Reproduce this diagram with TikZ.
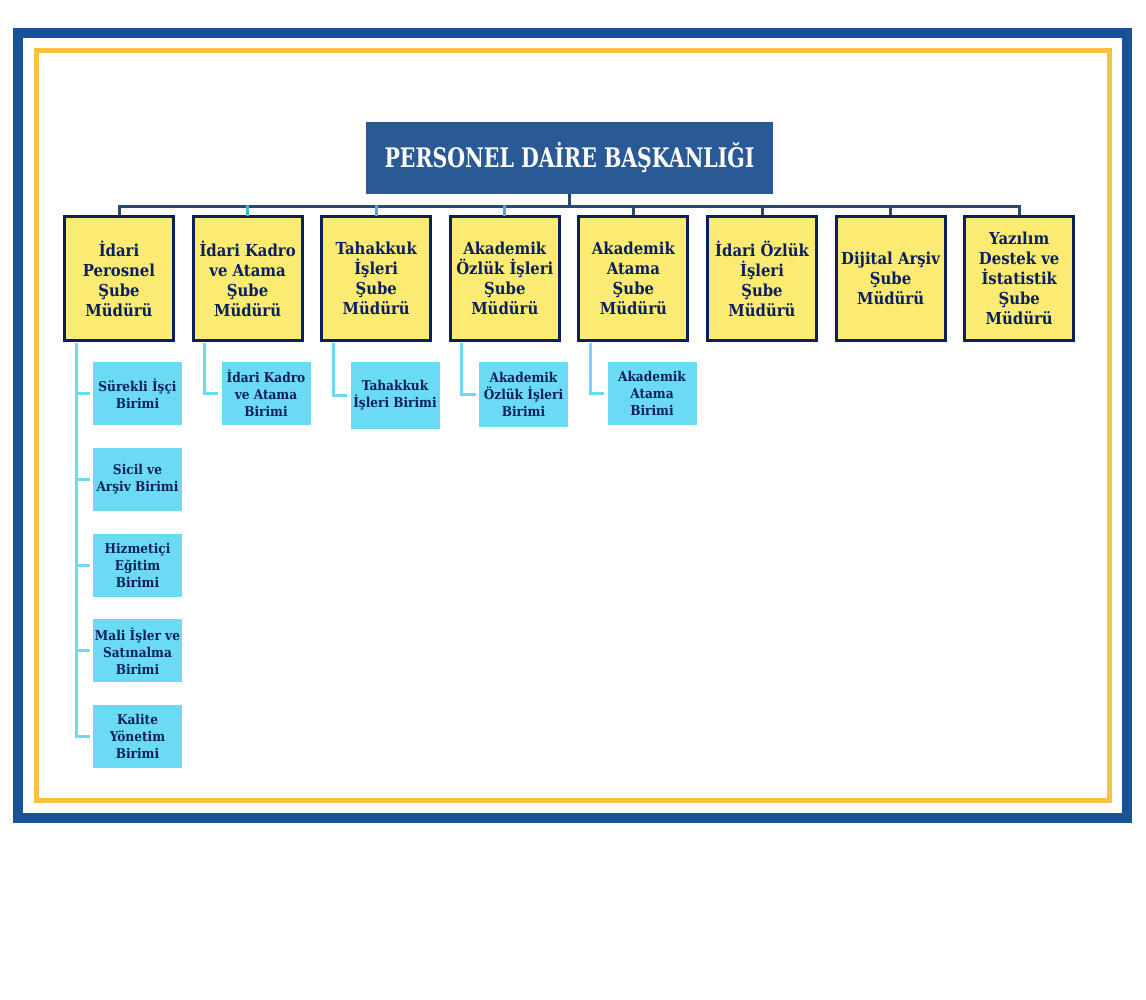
\documentclass[tikz,border=0pt]{standalone}
\usepackage{fontspec}
\usepackage{graphicx}
\setmainfont{DejaVu Serif Condensed}
\usetikzlibrary{calc}
\definecolor{frameblue}{HTML}{1A5296}
\definecolor{frameyellow}{HTML}{F8C142}
\definecolor{rootblue}{HTML}{2A5A96}
\definecolor{boxyellow}{HTML}{FCEB72}
\definecolor{navy}{HTML}{0B1F5E}
\definecolor{unitcyan}{HTML}{6BDBF3}
\definecolor{busslate}{HTML}{2D4A6E}
\definecolor{dropteal}{HTML}{45B5D2}
\tikzset{
  rootbox/.style={fill=rootblue, text=white, minimum width=407pt, minimum height=72pt, inner sep=0pt},
  mgrbox/.style={draw=navy, line width=3pt, fill=boxyellow, text=navy, minimum width=109pt, minimum height=124pt,
    inner sep=0pt, align=center, font=\fontsize{16.5}{20}\selectfont\bfseries},
  unitbox/.style={fill=unitcyan, text=navy, minimum width=89pt, minimum height=63pt,
    inner sep=0pt, align=center, font=\fontsize{13.5}{17}\selectfont\bfseries},
  busline/.style={draw=busslate, line width=3pt},
  dropline/.style={draw=dropteal, line width=3pt},
  unitline/.style={draw=unitcyan, line width=3pt},
}
\begin{document}
\begin{tikzpicture}[x=1pt,y=-1pt]
\useasboundingbox (0,0) rectangle (1146,1000);
% frames
\draw[frameblue, line width=10pt] (18,33) rectangle (1127,818);
\draw[frameyellow, line width=5pt] (36.5,50.5) rectangle (1109.5,800.5);
% root
\node[rootbox] (root) at (569.5,158) {\scalebox{1}[1.18]{\resizebox{370pt}{!}{\bfseries PERSONEL DAİRE BAŞKANLIĞI}}};
% managers
\node[mgrbox] (p1) at (119,278.5) {İdari\\Perosnel\\Şube\\Müdürü};
\node[mgrbox] (p2) at (247.6,278.5) {İdari Kadro\\ve Atama\\Şube\\Müdürü};
\node[mgrbox] (p3) at (376.2,278.5) {Tahakkuk\\İşleri\\Şube\\Müdürü};
\node[mgrbox] (p4) at (504.8,278.5) {Akademik\\Özlük İşleri\\Şube\\Müdürü};
\node[mgrbox] (p5) at (633.4,278.5) {Akademik\\Atama\\Şube\\Müdürü};
\node[mgrbox] (p6) at (762,278.5) {İdari Özlük\\İşleri\\Şube\\Müdürü};
\node[mgrbox] (p7) at (890.6,278.5) {Dijital Arşiv\\Şube\\Müdürü};
\node[mgrbox] (p8) at (1019.2,278.5) {Yazılım\\Destek ve\\İstatistik\\Şube\\Müdürü};
% bus
\coordinate (busy) at (0,207);
\draw[busline] (root.south) -- (root.south |- busy);
\draw[busline] (p1.north) -- (p1.north |- busy) -- (p8.north |- busy) -- (p8.north);
\foreach \p in {p5,p6,p7}{\draw[busline] (\p.north) -- (\p.north |- busy);}
\foreach \p in {p2,p3,p4}{\draw[dropline] ([yshift=-1.5pt]\p.north) -- ([yshift=1.5pt]\p.north |- busy);}
% units
\node[unitbox] (u1a) at (137.5,393.5) {Sürekli İşçi\\Birimi};
\node[unitbox] (u1b) at (137.5,479.25) {Sicil ve\\Arşiv Birimi};
\node[unitbox] (u1c) at (137.5,565) {Hizmetiçi\\Eğitim\\Birimi};
\node[unitbox] (u1d) at (137.5,650.75) {Mali İşler ve\\Satınalma\\Birimi};
\node[unitbox] (u1e) at (137.5,736.5) {Kalite\\Yönetim\\Birimi};
\node[unitbox] (u2) at (266,393.5) {İdari Kadro\\ve Atama\\Birimi};
\node[unitbox, minimum height=67pt] (u3) at (395,395.5) {Tahakkuk\\İşleri Birimi};
\node[unitbox, minimum height=65pt] (u4) at (523.5,394.5) {Akademik\\Özlük İşleri\\Birimi};
\node[unitbox] (u5) at (652,393.5) {Akademik\\Atama\\Birimi};
% unit connectors
\foreach \u in {u1a,u1b,u1c,u1d,u1e}{
  \draw[unitline] ($(p1.south west)+(13,1.5)$) |- ([xshift=-3pt]\u.west);}
\draw[unitline] ($(p2.south west)+(13,1.5)$) |- ([xshift=-3pt]u2.west);
\draw[unitline] ($(p3.south west)+(13,1.5)$) |- ([xshift=-3pt]u3.west);
\draw[unitline] ($(p4.south west)+(13,1.5)$) |- ([xshift=-3pt]u4.west);
\draw[unitline] ($(p5.south west)+(13,1.5)$) |- ([xshift=-3pt]u5.west);
\end{tikzpicture}
\end{document}
